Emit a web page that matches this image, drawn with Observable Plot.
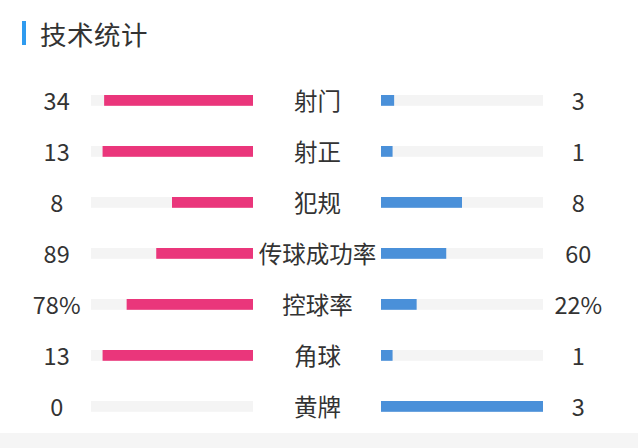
<!DOCTYPE html>
<html>
<head>
<meta charset="utf-8">
<script src="https://cdn.jsdelivr.net/npm/d3@7"></script>
<script src="https://cdn.jsdelivr.net/npm/@observablehq/plot@0.6"></script>
<style>
  html, body { margin: 0; padding: 0; background: #fff; }
  #wrap { position: relative; width: 638px; height: 448px; overflow: hidden; font-family: "Noto Sans CJK SC", "Noto Sans", sans-serif; }
  #footer { position: absolute; left: 0; top: 433px; width: 638px; height: 15px; background: #f5f5f5; }
  #title { position: absolute; left: 22px; top: 16px; height: 34px; display: flex; align-items: center; }
  #title .accent { width: 4px; height: 24px; background: #2f9bef; margin-right: 14px; }
  #title .txt { font-size: 26.5px; color: #333; letter-spacing: 0.5px; }
  #chart { position: absolute; left: 0; top: 0; }
  #chart svg { background: transparent; }
</style>
</head>
<body>
<div id="wrap">
  <div id="footer"></div>
  <div id="title"><div class="accent"></div><div class="txt">技术统计</div></div>
  <div id="chart"></div>
</div>
<script>
const categories = ["射门", "射正", "犯规", "传球成功率", "控球率", "角球", "黄牌"];
const homeValues = [34, 13, 8, 89, 78, 13, 0];
const awayValues = [3, 1, 8, 60, 22, 1, 3];
const homeLabels = ["34", "13", "8", "89", "78%", "13", "0"];
const awayLabels = ["3", "1", "8", "60", "22%", "1", "3"];

const rows = categories.map((c, i) => {
  const t = homeValues[i] + awayValues[i];
  return {
    cat: c,
    home: t ? homeValues[i] / t : 0,
    away: t ? awayValues[i] / t : 0,
    homeLabel: homeLabels[i],
    awayLabel: awayLabels[i]
  };
});

const G = 64 / 162;      // half gap between tracks, in share units
const OFF = 1 + G + 0.215; // value label offset
const pink = "#ea367b", blue = "#4a90d9", track = "#f4f4f4";
const inset = { insetTop: 20, insetBottom: 20.2 };

const chart = Plot.plot({
  width: 638,
  height: 448,
  margin: 0,
  style: { background: "transparent", fontFamily: "'Noto Sans CJK SC', sans-serif", color: "#333" },
  x: { domain: [-(1 + G), 1 + G], range: [91, 543], axis: null },
  y: { domain: categories, range: [74.4, 432.8], padding: 0, axis: null },
  marks: [
    Plot.barX(rows, { y: "cat", x1: -(1 + G), x2: -G, fill: track, ...inset }),
    Plot.barX(rows, { y: "cat", x1: G, x2: 1 + G, fill: track, ...inset }),
    Plot.barX(rows, { y: "cat", x1: d => -G - d.home, x2: -G, fill: pink, ...inset }),
    Plot.barX(rows, { y: "cat", x1: G, x2: d => G + d.away, fill: blue, ...inset }),
    Plot.text(rows, { y: "cat", x: 0, text: "cat", fontSize: 23.5, fill: "#333", dy: 1 }),
    Plot.text(rows, { y: "cat", x: -OFF, text: "homeLabel", fontSize: 23.5, fill: "#333", dy: 1 }),
    Plot.text(rows, { y: "cat", x: OFF, text: "awayLabel", fontSize: 23.5, fill: "#333", dy: 1 })
  ]
});
document.getElementById("chart").appendChild(chart);
</script>
</body>
</html>
